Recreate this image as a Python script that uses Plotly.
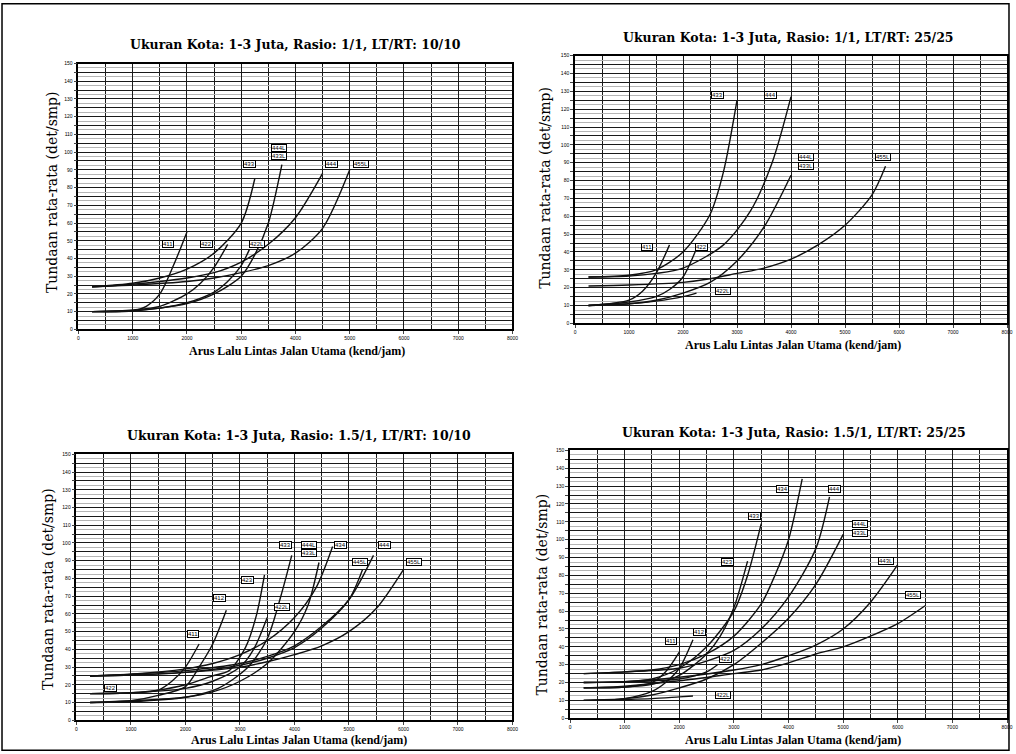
import plotly.graph_objects as go

# ---------------- data ----------------
X_TICKS = list(range(0, 8001, 1000))
Y_TICKS = list(range(0, 151, 5))
Y_LABEL_STEP = 10

TITLES = [
    "Ukuran Kota: 1-3 Juta, Rasio: 1/1, LT/RT: 10/10",
    "Ukuran Kota: 1-3 Juta, Rasio: 1/1, LT/RT: 25/25",
    "Ukuran Kota: 1-3 Juta, Rasio: 1.5/1, LT/RT: 10/10",
    "Ukuran Kota: 1-3 Juta, Rasio: 1.5/1, LT/RT: 25/25",
]
Y_TITLE = "Tundaan rata-rata (det/smp)"
X_TITLE = "Arus Lalu Lintas Jalan Utama (kend/jam)"

# Panel 1 : Rasio 1/1, LT/RT 10/10
P1_X = [
    [250, 1000, 1250, 1500, 1750, 2000],
    [250, 1000, 1500, 2000, 2250, 2500, 2750],
    [250, 1000, 1500, 2000, 2500, 2750, 3000, 3150],
    [250, 1000, 1500, 2000, 2500, 3000, 3250],
    [250, 1000, 1500, 2000, 2500, 3000, 3250, 3500, 3750],
    [250, 1000, 1500, 2000, 2500, 3000, 3500, 4000, 4500],
    [250, 1000, 2000, 2500, 3000, 3500, 4000, 4500, 5000],
]
P1_Y = [
    [10, 10.5, 13, 20, 36, 55],
    [10, 11, 13, 20, 26, 35, 48],
    [10, 10.5, 12, 15, 21, 27, 36, 45],
    [24, 26, 29, 34, 43, 60, 85],
    [10, 10.5, 12, 14.5, 20, 30, 42, 60, 93],
    [24, 25.5, 27, 29, 32, 38, 48, 63, 88],
    [24, 25, 27, 29, 32, 36, 43, 57, 90],
]
P1_LAB = ["411", "422", "422L", "433", "444L", "433L", "444", "455L"]
P1_LAB_X = [1650, 2360, 3300, 3150, 3700, 3700, 4660, 5200]
P1_LAB_Y = [48, 48, 48, 93.5, 102.5, 98, 93.5, 93.5]

# Panel 2 : Rasio 1/1, LT/RT 25/25
P2_X = [
    [250, 1000, 1250, 1500, 1750],
    [250, 1000, 1500, 1750, 2000, 2250],
    [250, 1000, 1500, 2000, 2250],
    [250, 1000, 1500, 2000, 2500, 2750, 3000],
    [250, 1000, 1500, 2000, 2750, 3250, 3650, 4000],
    [250, 1000, 1500, 2000, 2500, 3000, 3500, 4000],
    [250, 1000, 2000, 2500, 3000, 3500, 4000, 4500, 5000, 5500, 5750],
]
P2_Y = [
    [10, 13, 18, 28, 44],
    [10, 12, 15, 19, 26, 42],
    [10, 11, 12.5, 15, 17],
    [26, 27, 30, 40, 61, 85, 125],
    [26, 26.5, 28, 31, 44, 63, 90, 127],
    [10, 11, 13, 17, 23, 35, 54, 83],
    [21, 21.5, 23, 25, 28, 31, 36, 44, 55, 72, 88],
]
P2_LAB = ["411", "422", "422L", "433", "444", "444L", "433L", "455L"]
P2_LAB_X = [1340, 2350, 2740, 2640, 3620, 4280, 4280, 5700]
P2_LAB_Y = [43, 43, 18, 128, 128, 93.3, 88.3, 93.3]

# Panel 3 : Rasio 1.5/1, LT/RT 10/10
P3_X = [
    [250, 1000, 1500, 1750, 2000, 2250],
    [250, 1000, 1500, 2000, 2250, 2500, 2750],
    [250, 1000, 1500, 2000, 2500, 2800, 3100, 3300, 3450],
    [250, 1000, 2000, 2600, 3150, 3500, 3750, 3950],
    [250, 1000, 2000, 2500, 3000, 3500, 4000, 4250, 4450],
    [250, 1000, 2000, 2500, 3000, 3250, 3500],
    [250, 1000, 2000, 2500, 3000, 3500, 4000, 4400, 4700],
    [250, 1000, 2000, 3000, 3500, 4000, 4500, 5000, 5450],
    [250, 1000, 2000, 3000, 3500, 4000, 4500, 5000, 5250],
    [250, 1000, 2000, 3000, 3500, 4000, 4500, 5000, 5500, 6000],
]
P3_Y = [
    [15, 15.5, 17, 22, 30, 43],
    [10, 11, 14, 19, 30, 43, 62],
    [15, 15.5, 17, 20, 25, 28, 41, 59, 82],
    [10, 10.5, 13, 18, 30, 46, 70, 93],
    [10, 11, 13, 16, 22, 32, 50, 65, 89],
    [15, 15.5, 18, 22, 30, 40, 58],
    [25, 26, 29, 32, 37, 45, 58, 75, 98],
    [25, 26, 28, 32, 36, 42, 53, 68, 93],
    [25, 25.5, 27, 31, 35, 41, 52, 68, 85],
    [25, 25.5, 27, 30, 33, 37, 42, 50, 63, 85],
]
P3_LAB = ["411", "412", "423", "433", "444L", "433L", "422L", "434", "444", "445L", "455L", "422"]
P3_LAB_X = [2140, 2620, 3140, 3840, 4260, 4260, 3780, 4840, 5660, 5200, 6200, 620]
P3_LAB_Y = [48.5, 68.7, 79, 98.6, 99, 94.3, 64, 99, 99, 89.2, 89.2, 18]

# Panel 4 : Rasio 1.5/1, LT/RT 25/25
P4_X = [
    [250, 1000, 1500, 1750, 2000],
    [250, 1000, 1500, 1750, 2000, 2250],
    [250, 1000, 1500, 2000, 2250],
    [250, 1000, 2000, 2500, 2700],
    [250, 1000, 1500, 2000, 2500, 2750, 3000, 3250],
    [250, 1000, 1500, 2000, 2500, 3000, 3250, 3500],
    [250, 1000, 1500, 2000, 2500, 3000, 3500, 3750, 4000, 4250],
    [250, 1000, 2000, 2500, 3000, 3500, 4000, 4500, 4750],
    [250, 1000, 1500, 2000, 2500, 3000, 3500, 4000, 4500, 5000],
    [250, 1000, 2000, 3000, 3500, 4000, 4500, 5000, 5500, 6000],
    [250, 1000, 2000, 3000, 3500, 4000, 4500, 5000, 5500, 6000, 6500],
]
P4_Y = [
    [17, 17.5, 20, 26, 37],
    [10, 11, 15, 20, 28, 44],
    [10, 10.5, 11, 12, 12.5],
    [20, 20.5, 22, 26, 30],
    [17, 17.5, 19, 24, 36, 46, 62, 88],
    [20, 20.5, 22, 28, 40, 60, 80, 109],
    [25, 26, 27, 30, 36, 46, 64, 80, 100, 134],
    [25, 26, 28, 32, 38, 50, 68, 95, 124],
    [10, 11, 13, 17, 22, 30, 42, 56, 75, 103],
    [20, 20.5, 23, 27, 30, 35, 41, 50, 65, 86],
    [17, 18, 21, 25, 27, 31, 36, 40, 46, 53, 63],
]
P4_LAB = ["411", "412", "422L", "422", "423", "433", "434", "444", "444L", "433L", "443L", "455L"]
P4_LAB_X = [1850, 2370, 2800, 2850, 2890, 3370, 3890, 4850, 5310, 5310, 5790, 6280]
P4_LAB_Y = [43, 48.5, 13.3, 33.3, 87.4, 113.3, 128.2, 128.5, 108.7, 104, 88.3, 68.9]

PANELS = [
    (P1_X, P1_Y, P1_LAB, P1_LAB_X, P1_LAB_Y),
    (P2_X, P2_Y, P2_LAB, P2_LAB_X, P2_LAB_Y),
    (P3_X, P3_Y, P3_LAB, P3_LAB_X, P3_LAB_Y),
    (P4_X, P4_Y, P4_LAB, P4_LAB_X, P4_LAB_Y),
]

# ---------------- layout (pixel geometry) ----------------
W, H = 1016, 754
BOXES = [
    (78, 515, 61, 329),
    (578, 1013, 53, 323),
    (76, 515, 455, 723),
    (573, 1013, 451, 721),
]
TITLE_POS = [(297, 42), (793, 35), (300, 436), (798, 433)]
YT_POS = [(52, 191), (547, 186), (48, 591), (545, 596)]
XT_POS = [(298, 351), (797, 345), (300, 743), (797, 743)]

SERIF = "DejaVu Serif"
Y_TEXT = [str(v) if v % Y_LABEL_STEP == 0 else "" for v in Y_TICKS]

fig = go.Figure()
annotations = []
layout_axes = {}

for i, (xs, ys, labs, lx, ly) in enumerate(PANELS):
    n = "" if i == 0 else str(i + 1)
    l, r, t, b = BOXES[i]
    xa = "x" + n
    ya = "y" + n
    for cx, cy in zip(xs, ys):
        fig.add_trace(go.Scatter(
            x=cx, y=cy, mode="lines", xaxis=xa, yaxis=ya,
            line=dict(color="#111", width=1.4, shape="spline", smoothing=0.8),
            showlegend=False, hoverinfo="skip"))
    layout_axes["xaxis" + n] = dict(
        domain=[l / W, r / W], anchor=ya, range=[0, 8000],
        tickvals=X_TICKS, ticks="outside", ticklen=3, tickwidth=1,
        tickfont=dict(size=5, family="Liberation Sans", color="#000"),
        showgrid=True, gridcolor="#1a1a1a", gridwidth=1.4,
        minor=dict(dtick=500, tick0=0, showgrid=True, gridcolor="#1a1a1a", gridwidth=1.3),
        showline=True, linecolor="#000", linewidth=1.6, mirror=True,
        zeroline=False, fixedrange=True)
    layout_axes["yaxis" + n] = dict(
        domain=[1 - b / H, 1 - t / H], anchor=xa, range=[0, 150],
        tickvals=Y_TICKS, ticktext=Y_TEXT, ticks="outside", ticklen=3, tickwidth=1,
        tickfont=dict(size=5, family="Liberation Sans", color="#000"),
        showgrid=True, gridcolor="#1a1a1a", gridwidth=1.4,
        minor=dict(dtick=2.5, tick0=0, showgrid=True, gridcolor="#b5b5b5", gridwidth=1),
        showline=True, linecolor="#000", linewidth=1.6, mirror=True,
        zeroline=False, fixedrange=True)
    for txt, x0, y0 in zip(labs, lx, ly):
        annotations.append(dict(
            x=x0, y=y0, xref=xa, yref=ya, text=txt, showarrow=False,
            font=dict(size=6, family="Liberation Sans", color="#000"),
            bgcolor="white", bordercolor="#000", borderwidth=1, borderpad=0))
    tx, ty = TITLE_POS[i]
    annotations.append(dict(x=tx / W, y=1 - ty / H, xref="paper", yref="paper",
                            xanchor="center", yanchor="middle",
                            text="<b>" + TITLES[i] + "</b>", showarrow=False,
                            font=dict(size=12.5, family=SERIF, color="#000")))
    yx, yy = YT_POS[i]
    annotations.append(dict(x=yx / W, y=1 - yy / H, xref="paper", yref="paper",
                            xanchor="center", yanchor="middle",
                            text=Y_TITLE, textangle=-90, showarrow=False,
                            font=dict(size=14, family=SERIF, color="#000")))
    xx, xy = XT_POS[i]
    annotations.append(dict(x=xx / W, y=1 - xy / H, xref="paper", yref="paper",
                            xanchor="center", yanchor="middle",
                            text="<b>" + X_TITLE + "</b>", showarrow=False,
                            font=dict(size=12, family="Liberation Serif", color="#000")))

fig.update_layout(
    width=W, height=H, margin=dict(l=0, r=0, t=0, b=0),
    paper_bgcolor="white", plot_bgcolor="white",
    annotations=annotations,
    shapes=[dict(type="rect", xref="paper", yref="paper", x0=0.001, y0=0.001,
                 x1=0.999, y1=0.999, line=dict(color="#000", width=1.5))],
    **layout_axes)

fig.write_html("out.html")
